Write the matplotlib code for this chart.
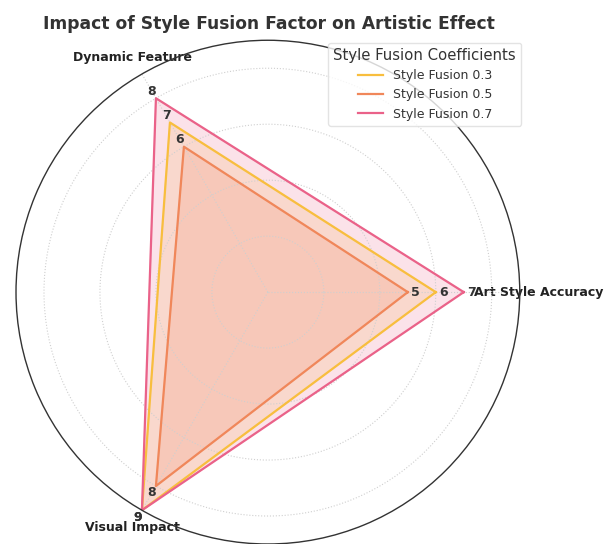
import numpy as np
import matplotlib
matplotlib.use('Agg')
import matplotlib.pyplot as plt

# Radar chart: three style fusion coefficients scored on three criteria
categories = ['Art Style Accuracy', 'Dynamic Feature', 'Visual Impact']
series_names = ['Style Fusion 0.3', 'Style Fusion 0.5', 'Style Fusion 0.7']
fusion_03 = [6, 7, 9]
fusion_05 = [5, 6, 8]
fusion_07 = [7, 8, 9]
colors = ['#F8BE3E', '#F0875A', '#EA6289']

series = [fusion_03, fusion_05, fusion_07]

angles = np.linspace(0, 2 * np.pi, len(categories), endpoint=False)
closed = np.concatenate([angles, angles[:1]])

fig = plt.figure(figsize=(6.04, 5.44), dpi=100)
ax = fig.add_axes([0.0265, 0.0, 0.834, 0.926], projection='polar')

for name, vals, col in zip(series_names, series, colors):
    v = np.concatenate([vals, vals[:1]])
    ax.plot(closed, v, color=col, linewidth=1.6, label=name)
    ax.fill(closed, v, color=col, alpha=0.18)
    for a, val in zip(angles, vals):
        ax.text(a, val + 0.28, str(val), ha='center', va='center',
                fontsize=9, fontweight='bold', color='#333333')

ax.set_ylim(0, 9)
ax.set_yticks([2, 4, 6, 8])
ax.set_yticklabels([])
ax.set_xticks(angles)
ax.set_xticklabels(categories, fontsize=9, fontweight='bold', color='#222222')
ax.grid(color='#cfcfcf', linestyle=':', linewidth=0.8)
ax.spines['polar'].set_color('#333333')
ax.spines['polar'].set_linewidth(1.0)

fig.suptitle('Impact of Style Fusion Factor on Artistic Effect', x=0.445, y=0.972,
             fontsize=12.3, fontweight='bold', color='#333333')

leg = ax.legend(loc='upper right', bbox_to_anchor=(0.8626, 0.921),
                bbox_transform=fig.transFigure, borderaxespad=0,
                title='Style Fusion Coefficients',
                fontsize=9, title_fontsize=10.7, frameon=True)
leg.get_frame().set_edgecolor('#dddddd')
leg.get_title().set_color('#333333')
for t in leg.get_texts():
    t.set_color('#333333')

fig.savefig('out.png', dpi=100)
